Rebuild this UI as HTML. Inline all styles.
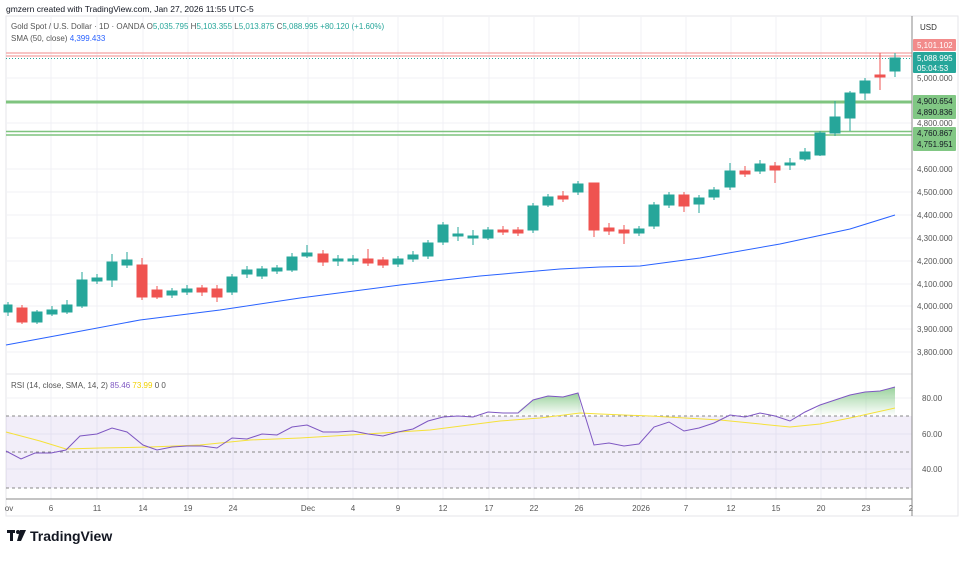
<!DOCTYPE html>
<html><head><meta charset="utf-8"><style>
body{margin:0;background:#fff;width:964px;height:556px;overflow:hidden;font-family:"Liberation Sans",sans-serif}
svg text{font-family:"Liberation Sans","Noto Sans CJK SC",sans-serif}
</style></head><body>
<svg width="964" height="556" viewBox="0 0 964 556" xmlns="http://www.w3.org/2000/svg">
<rect width="964" height="556" fill="#fff"/>
<text x="6" y="12" font-size="8.5" fill="#131722">gmzern created with TradingView.com, Jan 27, 2026 11:55 UTC-5</text>
<rect x="6" y="16" width="952" height="500" fill="none" stroke="#e6e6ea"/>
<!-- grid -->
<g stroke="#f0f1f6" stroke-width="1">
<line x1="6" x2="912" y1="78" y2="78"/><line x1="6" x2="912" y1="123" y2="123"/><line x1="6" x2="912" y1="169" y2="169"/><line x1="6" x2="912" y1="192" y2="192"/><line x1="6" x2="912" y1="215" y2="215"/><line x1="6" x2="912" y1="238" y2="238"/><line x1="6" x2="912" y1="261" y2="261"/><line x1="6" x2="912" y1="284" y2="284"/><line x1="6" x2="912" y1="306" y2="306"/><line x1="6" x2="912" y1="329" y2="329"/><line x1="6" x2="912" y1="352" y2="352"/>
<line x1="6" x2="912" y1="398" y2="398"/><line x1="6" x2="912" y1="434" y2="434"/><line x1="6" x2="912" y1="469" y2="469"/>
<line x1="51" x2="51" y1="16" y2="499"/><line x1="97" x2="97" y1="16" y2="499"/><line x1="143" x2="143" y1="16" y2="499"/><line x1="188" x2="188" y1="16" y2="499"/><line x1="233" x2="233" y1="16" y2="499"/><line x1="308" x2="308" y1="16" y2="499"/><line x1="353" x2="353" y1="16" y2="499"/><line x1="398" x2="398" y1="16" y2="499"/><line x1="443" x2="443" y1="16" y2="499"/><line x1="489" x2="489" y1="16" y2="499"/><line x1="534" x2="534" y1="16" y2="499"/><line x1="579" x2="579" y1="16" y2="499"/><line x1="641" x2="641" y1="16" y2="499"/><line x1="686" x2="686" y1="16" y2="499"/><line x1="731" x2="731" y1="16" y2="499"/><line x1="776" x2="776" y1="16" y2="499"/><line x1="821" x2="821" y1="16" y2="499"/><line x1="866" x2="866" y1="16" y2="499"/>
</g>
<text x="11" y="29" font-size="8" fill="#555">Gold Spot / U.S. Dollar · 1D · OANDA <tspan fill="#555">O</tspan><tspan fill="#26a69a">5,035.795</tspan> <tspan fill="#555">H</tspan><tspan fill="#26a69a">5,103.355</tspan> <tspan fill="#555">L</tspan><tspan fill="#26a69a">5,013.875</tspan> <tspan fill="#555">C</tspan><tspan fill="#26a69a">5,088.995 +80.120 (+1.60%)</tspan></text>
<text x="11" y="41" font-size="8" fill="#555">SMA (50, close) <tspan fill="#2962ff">4,399.433</tspan></text>
<!-- horizontal levels -->
<line x1="6" x2="912" y1="53" y2="53" stroke="#f28b8b" stroke-width="1"/>
<line x1="6" x2="912" y1="56" y2="56" stroke="#f28b8b" stroke-width="1"/>
<line x1="6" x2="912" y1="58.5" y2="58.5" stroke="#26a69a" stroke-dasharray="1,2"/>
<rect x="6" y="100.5" width="906" height="3" fill="#7fc47f"/>
<line x1="6" x2="912" y1="131.5" y2="131.5" stroke="#7fc47f" stroke-width="1.5"/>
<line x1="6" x2="912" y1="135" y2="135" stroke="#7fc47f" stroke-width="1.5"/>
<!-- SMA -->
<polyline fill="none" stroke="#2962ff" stroke-width="1" points="6,345 60,335 140,320 220,310 300,298 400,285 480,276 560,269 600,267 640,266 700,258 780,244 850,229 895,215"/>
<!-- candles -->
<g id="c" stroke-width="1"></g>
<g stroke="#26a69a" fill="#26a69a">
<line x1="8" x2="8" y1="302" y2="316"/><rect x="4" y="305" width="8" height="7"/>
<line x1="37" x2="37" y1="310" y2="324"/><rect x="32" y="312" width="10" height="10"/>
<line x1="52" x2="52" y1="306" y2="316"/><rect x="47" y="310" width="10" height="4"/>
<line x1="67" x2="67" y1="300" y2="314"/><rect x="62" y="305" width="10" height="7"/>
<line x1="82" x2="82" y1="272" y2="308"/><rect x="77" y="280" width="10" height="26"/>
<line x1="97" x2="97" y1="274" y2="284"/><rect x="92" y="278" width="10" height="3"/>
<line x1="112" x2="112" y1="254" y2="287"/><rect x="107" y="262" width="10" height="18"/>
<line x1="127" x2="127" y1="252" y2="268"/><rect x="122" y="260" width="10" height="5"/>
<line x1="172" x2="172" y1="288" y2="298"/><rect x="167" y="291" width="10" height="4"/>
<line x1="187" x2="187" y1="285" y2="295"/><rect x="182" y="289" width="10" height="3"/>
<line x1="232" x2="232" y1="274" y2="295"/><rect x="227" y="277" width="10" height="15"/>
<line x1="247" x2="247" y1="266" y2="278"/><rect x="242" y="270" width="10" height="4"/>
<line x1="262" x2="262" y1="266" y2="279"/><rect x="257" y="269" width="10" height="7"/>
<line x1="277" x2="277" y1="265" y2="274"/><rect x="272" y="268" width="10" height="3"/>
<line x1="292" x2="292" y1="253" y2="272"/><rect x="287" y="257" width="10" height="13"/>
<line x1="307" x2="307" y1="245" y2="258"/><rect x="302" y="253" width="10" height="3"/>
<line x1="338" x2="338" y1="255" y2="266"/><rect x="333" y="259" width="10" height="2"/>
<line x1="353" x2="353" y1="255" y2="265"/><rect x="348" y="259" width="10" height="2"/>
<line x1="398" x2="398" y1="256" y2="267"/><rect x="393" y="259" width="10" height="5"/>
<line x1="413" x2="413" y1="251" y2="262"/><rect x="408" y="255" width="10" height="4"/>
<line x1="428" x2="428" y1="240" y2="259"/><rect x="423" y="243" width="10" height="13"/>
<line x1="443" x2="443" y1="222" y2="245"/><rect x="438" y="225" width="10" height="17"/>
<line x1="458" x2="458" y1="227" y2="241"/><rect x="453" y="234" width="10" height="2"/>
<line x1="473" x2="473" y1="230" y2="245"/><rect x="468" y="236" width="10" height="2"/>
<line x1="488" x2="488" y1="227" y2="240"/><rect x="483" y="230" width="10" height="8"/>
<line x1="533" x2="533" y1="203" y2="233"/><rect x="528" y="206" width="10" height="24"/>
<line x1="548" x2="548" y1="194" y2="207"/><rect x="543" y="197" width="10" height="8"/>
<line x1="578" x2="578" y1="181" y2="195"/><rect x="573" y="184" width="10" height="8"/>
<line x1="639" x2="639" y1="226" y2="236"/><rect x="634" y="229" width="10" height="4"/>
<line x1="654" x2="654" y1="202" y2="229"/><rect x="649" y="205" width="10" height="21"/>
<line x1="669" x2="669" y1="192" y2="208"/><rect x="664" y="195" width="10" height="10"/>
<line x1="699" x2="699" y1="195" y2="213"/><rect x="694" y="198" width="10" height="6"/>
<line x1="714" x2="714" y1="187" y2="200"/><rect x="709" y="190" width="10" height="7"/>
<line x1="730" x2="730" y1="163" y2="190"/><rect x="725" y="171" width="10" height="16"/>
<line x1="760" x2="760" y1="160" y2="174"/><rect x="755" y="164" width="10" height="7"/>
<line x1="790" x2="790" y1="158" y2="170"/><rect x="785" y="163" width="10" height="2"/>
<line x1="805" x2="805" y1="148" y2="161"/><rect x="800" y="152" width="10" height="7"/>
<line x1="820" x2="820" y1="131" y2="156"/><rect x="815" y="133" width="10" height="22"/>
<line x1="835" x2="835" y1="101" y2="136"/><rect x="830" y="117" width="10" height="16"/>
<line x1="850" x2="850" y1="91" y2="131"/><rect x="845" y="93" width="10" height="25"/>
<line x1="865" x2="865" y1="78" y2="100"/><rect x="860" y="81" width="10" height="12"/>
<line x1="895" x2="895" y1="53" y2="77"/><rect x="890" y="58" width="10" height="13"/>
</g>
<g stroke="#ef5350" fill="#ef5350">
<line x1="22" x2="22" y1="305" y2="324"/><rect x="17" y="308" width="10" height="14"/>
<line x1="142" x2="142" y1="258" y2="300"/><rect x="137" y="265" width="10" height="32"/>
<line x1="157" x2="157" y1="286" y2="299"/><rect x="152" y="290" width="10" height="7"/>
<line x1="202" x2="202" y1="285" y2="296"/><rect x="197" y="288" width="10" height="4"/>
<line x1="217" x2="217" y1="285" y2="302"/><rect x="212" y="289" width="10" height="8"/>
<line x1="323" x2="323" y1="250" y2="266"/><rect x="318" y="254" width="10" height="8"/>
<line x1="368" x2="368" y1="249" y2="266"/><rect x="363" y="259" width="10" height="4"/>
<line x1="383" x2="383" y1="257" y2="268"/><rect x="378" y="260" width="10" height="5"/>
<line x1="503" x2="503" y1="226" y2="235"/><rect x="498" y="230" width="10" height="2"/>
<line x1="518" x2="518" y1="227" y2="236"/><rect x="513" y="230" width="10" height="3"/>
<line x1="563" x2="563" y1="191" y2="202"/><rect x="558" y="196" width="10" height="3"/>
<line x1="594" x2="594" y1="183" y2="237"/><rect x="589" y="183" width="10" height="47"/>
<line x1="609" x2="609" y1="223" y2="235"/><rect x="604" y="228" width="10" height="3"/>
<line x1="624" x2="624" y1="225" y2="244"/><rect x="619" y="230" width="10" height="3"/>
<line x1="684" x2="684" y1="192" y2="212"/><rect x="679" y="195" width="10" height="11"/>
<line x1="745" x2="745" y1="166" y2="177"/><rect x="740" y="171" width="10" height="3"/>
<line x1="775" x2="775" y1="162" y2="183"/><rect x="770" y="166" width="10" height="4"/>
<line x1="880" x2="880" y1="53" y2="90"/><rect x="875" y="75" width="10" height="2"/>
</g>
<!-- pane separator -->
<line x1="6" x2="912" y1="374" y2="374" stroke="#e6e6ea"/>
<!-- RSI -->
<text x="11" y="388" font-size="8" fill="#555">RSI (14, close, SMA, 14, 2) <tspan fill="#7e57c2">85.46</tspan> <tspan fill="#f0d000">73.99</tspan> <tspan fill="#555">0  0</tspan></text>
<defs><linearGradient id="g" x1="0" y1="0" x2="0" y2="1"><stop offset="0" stop-color="#81c784" stop-opacity=".8"/><stop offset="1" stop-color="#81c784" stop-opacity="0"/></linearGradient></defs>
<rect x="6" y="416" width="906" height="72" fill="#7e57c2" fill-opacity=".1"/>
<polygon fill="url(#g)" points="518,416 518,411 533,400 548,396 563,397 578,393 583,416"/>
<polygon fill="url(#g)" points="810,416 820,405 835,400 850,395 865,392 880,391 895,387 895,416"/>
<g stroke="#888" stroke-dasharray="3,3"><line x1="6" x2="912" y1="416" y2="416"/><line x1="6" x2="912" y1="452" y2="452"/><line x1="6" x2="912" y1="488" y2="488"/></g>
<polyline fill="none" stroke="#f5e13a" stroke-width="1" points="6,432 40,441 66,449 100,448 150,447 200,445 250,440 300,438 350,435 430,430 500,421 540,418 580,413 600,414 650,416 720,420 790,427 820,424 850,418 895,408"/>
<polyline fill="none" stroke="#7e57c2" stroke-width="1" points="6,451 21,459 35,453 51,453 66,450 80,436 97,434 112,428 127,432 143,445 157,450 172,447 187,446 202,446 217,448 232,438 247,439 262,434 277,435 292,427 307,425 323,432 338,432 353,431 368,434 383,436 398,432 413,429 428,421 443,417 458,416 473,417 488,412 503,413 518,413 533,400 548,396 563,397 578,393 594,445 609,443 624,446 639,444 654,427 669,422 684,431 699,428 714,423 730,415 745,417 760,413 775,416 790,421 805,412 820,405 835,400 850,395 865,392 880,391 895,387"/>
<!-- time axis -->
<line x1="6" x2="912" y1="499" y2="499" stroke="#888"/>
<g font-size="8" fill="#555" text-anchor="middle">
<text x="9" y="511">ov</text><text x="51" y="511">6</text><text x="97" y="511">11</text><text x="143" y="511">14</text><text x="188" y="511">19</text><text x="233" y="511">24</text><text x="308" y="511">Dec</text><text x="353" y="511">4</text><text x="398" y="511">9</text><text x="443" y="511">12</text><text x="489" y="511">17</text><text x="534" y="511">22</text><text x="579" y="511">26</text><text x="641" y="511">2026</text><text x="686" y="511">7</text><text x="731" y="511">12</text><text x="776" y="511">15</text><text x="821" y="511">20</text><text x="866" y="511">23</text><text x="911" y="511">2</text>
</g>
<!-- price axis -->
<line x1="912" x2="912" y1="16" y2="516" stroke="#888"/>
<text x="920" y="30" font-size="8" fill="#333">USD</text>
<g font-size="8" fill="#555">
<text x="917" y="81">5,000.000</text><text x="917" y="126">4,800.000</text><text x="917" y="172">4,600.000</text><text x="917" y="195">4,500.000</text><text x="917" y="218">4,400.000</text><text x="917" y="241">4,300.000</text><text x="917" y="264">4,200.000</text><text x="917" y="287">4,100.000</text><text x="917" y="309">4,000.000</text><text x="917" y="332">3,900.000</text><text x="917" y="355">3,800.000</text>
<text x="922" y="401">80.00</text><text x="922" y="437">60.00</text><text x="922" y="472">40.00</text>
</g>
<rect x="913" y="39" width="43" height="12" rx="1" fill="#f28b8b"/><text x="917" y="48" font-size="8" fill="#fff">5,101.102</text>
<rect x="913" y="52" width="43" height="21" rx="1" fill="#26a69a"/><text x="917" y="61" font-size="8" fill="#fff">5,088.995</text><text x="917" y="71" font-size="8" fill="#fff">05:04:53</text>
<rect x="913" y="95" width="43" height="24" rx="1" fill="#81c784"/><text x="917" y="104" font-size="8" fill="#131722">4,900.654</text><text x="917" y="115" font-size="8" fill="#131722">4,890.836</text>
<rect x="913" y="127" width="43" height="24" rx="1" fill="#81c784"/><text x="917" y="136" font-size="8" fill="#131722">4,760.867</text><text x="917" y="147" font-size="8" fill="#131722">4,751.951</text>
<!-- logo -->
<g fill="#131722"><rect x="7" y="530" width="8" height="3"/><rect x="10" y="530" width="3" height="11"/><circle cx="18" cy="532" r="2"/><polygon points="20,530 26,530 21,541 17,541"/></g>
<text x="30" y="541" font-size="14" font-weight="bold" fill="#131722">TradingView</text>
</svg>
</body></html>
